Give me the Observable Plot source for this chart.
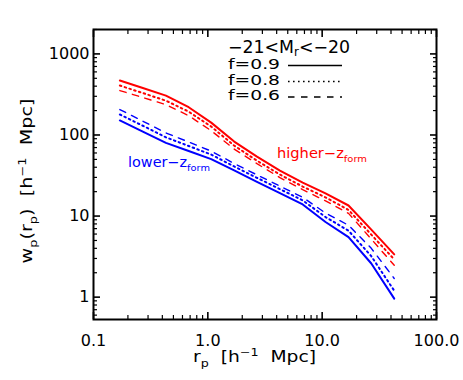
<!DOCTYPE html>
<html><head><meta charset="utf-8">
<script src="https://cdn.jsdelivr.net/npm/d3@7"></script>
<script src="https://cdn.jsdelivr.net/npm/@observablehq/plot@0.6"></script>
<style>
body{margin:0;background:#fff}
#chart{width:463px;height:380px;overflow:hidden}
</style>
</head><body><div id="chart"></div>
<script>
// ---- data ----
const rp = [0.17, 0.27, 0.43, 0.68, 1.07, 1.70, 2.69, 4.27, 6.76, 10.7, 17.0, 26.9, 42.7];
const highF09 = [469, 379, 306, 220, 142, 83, 54, 36.4, 25.9, 19.0, 13.5, 6.8, 3.37];
const highF08 = [407, 329, 265, 194, 127, 74, 48.2, 32.5, 23.1, 17.0, 11.9, 5.9, 2.92];
const highF06 = [353, 290, 237, 173, 113, 67, 44.3, 29.8, 21.2, 15.4, 10.8, 5.2, 2.47];
const lowF09  = [151, 110, 80, 63.5, 50.4, 36.5, 26.4, 19.2, 13.9, 8.45, 5.5, 2.6, 0.96];
const lowF08  = [179, 130, 93.5, 73.2, 57.3, 40.9, 29.6, 21.5, 15.6, 9.73, 6.6, 3.2, 1.2];
const lowF06  = [206, 148, 106, 82, 63.3, 44.5, 32.2, 23.4, 17.0, 10.9, 7.7, 4.0, 1.7];
const fLabels = ["f=0.9", "f=0.8", "f=0.6"];
const xMajor = [0.1, 1, 10, 100];
const xMinor = [0.2,0.3,0.4,0.5,0.6,0.7,0.8,0.9,2,3,4,5,6,7,8,9,20,30,40,50,60,70,80,90];
const yMajor = [1, 10, 100, 1000];
const yMinor = [0.6,0.7,0.8,0.9,2,3,4,5,6,7,8,9,20,30,40,50,60,70,80,90,200,300,400,500,600,700,800,900,2000];

const FONT = "DejaVu Sans";
const RED = "#ff0000", BLUE = "#0000ff";
const styles = [
  {dash: null, width: 2},
  {dash: "1.6,3.4", width: 2},
  {dash: "6.5,6.5", width: 1.4}
];
const rows = vals => rp.map((r, i) => ({rp: r, wp: vals[i]}));
const highSets = [highF09, highF08, highF06];
const lowSets = [lowF09, lowF08, lowF06];

const lineMarks = [];
[[highSets, RED], [lowSets, BLUE]].forEach(([sets, color]) => {
  sets.forEach((vals, k) => {
    lineMarks.push(Plot.line(rows(vals), {
      x: "rp", y: "wp", stroke: color,
      strokeWidth: styles[k].width,
      strokeDasharray: styles[k].dash
    }));
  });
});

const blank = () => "";
const chart = Plot.plot({
  width: 463, height: 380,
  marginLeft: 93, marginRight: 27, marginTop: 29, marginBottom: 61,
  x: {type: "log", domain: [0.1, 100]},
  y: {type: "log", domain: [0.53, 2000]},
  style: {fontFamily: FONT, fontSize: "16px", color: "black", background: "white"},
  marks: [
    ...lineMarks,
    Plot.axisX(xMajor, {anchor: "bottom", tickSize: -7, tickPadding: 22, strokeWidth: 1.6,
      tickFormat: d => d < 1 ? String(d) : d.toFixed(1), label: null, fill: "black"}),
    Plot.axisX(xMinor, {anchor: "bottom", tickSize: -4, strokeWidth: 1.2, tickFormat: blank, label: null}),
    Plot.axisX(xMajor, {anchor: "top", tickSize: -7, strokeWidth: 1.6, tickFormat: blank, label: null}),
    Plot.axisX(xMinor, {anchor: "top", tickSize: -4, strokeWidth: 1.2, tickFormat: blank, label: null}),
    Plot.axisY(yMajor, {anchor: "left", tickSize: -7, tickPadding: 11, strokeWidth: 1.6,
      tickFormat: d => String(d), label: null, fill: "black"}),
    Plot.axisY(yMinor, {anchor: "left", tickSize: -4, strokeWidth: 1.2, tickFormat: blank, label: null}),
    Plot.axisY(yMajor, {anchor: "right", tickSize: -7, strokeWidth: 1.6, tickFormat: blank, label: null}),
    Plot.axisY(yMinor, {anchor: "right", tickSize: -4, strokeWidth: 1.2, tickFormat: blank, label: null}),
    Plot.frame({stroke: "black", strokeWidth: 2})
  ]
});
document.getElementById("chart").appendChild(chart);

// ---- rich text (sub/superscripts) added to the same SVG ----
const svg = d3.select(chart);
const g = svg.append("g").attr("font-family", FONT);
function rich(parts, {x, y, size, anchor = "start", fill = "black", len, rotate, sub = 0.3}) {
  const t = g.append("text").attr("x", x).attr("y", y).attr("font-size", size)
    .attr("fill", fill).attr("text-anchor", anchor);
  if (rotate) t.attr("transform", `rotate(${rotate},${x},${y})`);
  if (len) t.attr("textLength", len).attr("lengthAdjust", "spacingAndGlyphs");
  let cur = 0;
  for (const p of parts) {
    const small = p.sub || p.sup;
    const target = p.sub ? size * sub : p.sup ? -size * 0.42 : 0;
    t.append("tspan").attr("dy", target - cur).attr("font-size", small ? size * 0.68 : size).text(p.t);
    cur = target;
  }
  return t;
}
const NB = "\u00a0";
// axis titles
rich([{t: "r"}, {t: "p", sub: true}, {t: NB + NB + "[h"}, {t: "−1", sup: true}, {t: NB + NB + "Mpc]"}],
  {x: 254.5, y: 362, size: 15, anchor: "middle", len: 123});
rich([{t: "w"}, {t: "p", sub: true}, {t: "(r"}, {t: "p", sub: true}, {t: ")" + NB + NB + "[h"}, {t: "−1", sup: true}, {t: NB + NB + "Mpc]"}],
  {x: 32, y: 181, size: 15, anchor: "middle", len: 165, rotate: -90});
// legend
rich([{t: "−21<M"}, {t: "r", sub: true}, {t: "<−20"}], {x: 228, y: 52.5, size: 17, len: 122, sub: 0.2});
const legBase = [68.5, 84.5, 100];
fLabels.forEach((lab, k) => {
  rich([{t: lab}], {x: 228, y: legBase[k], size: 13.5, len: 52});
  g.append("line").attr("x1", 288).attr("x2", 342)
    .attr("y1", legBase[k] - 3).attr("y2", legBase[k] - 3)
    .attr("stroke", "black").attr("stroke-width", 1.3)
    .attr("stroke-dasharray", styles[k].dash);
});
// annotations
rich([{t: "higher−z"}, {t: "form", sub: true}], {x: 277, y: 158, size: 14, fill: RED, len: 90});
rich([{t: "lower−z"}, {t: "form", sub: true}], {x: 128, y: 167, size: 14, fill: BLUE, len: 82});
</script>
</body></html>
